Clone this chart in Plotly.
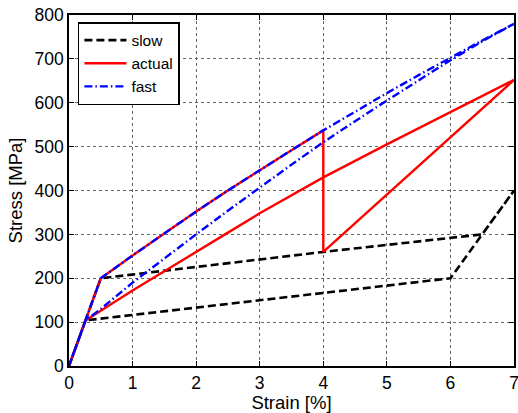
import plotly.graph_objects as go

# ---- data ----
slow_strain = [0, 0.5, 4, 6.5, 7, 6, 0.26, 0]
slow_stress = [0, 200, 260, 300, 400, 200, 104, 0]

actual_strain = [0, 0.5, 1, 1.5, 2, 2.5, 3, 3.5, 4, 4, 7,
                 6, 5, 4, 3, 2.5, 2, 1.5, 1, 0.5, 0.26, 0]
actual_stress = [0, 200, 252, 303, 352, 400, 447, 492, 537, 260, 652,
                 579, 505, 430, 348, 304, 260, 217, 172, 126, 104, 0]

fast_strain = [0, 0.5, 1, 1.5, 2, 2.5, 3, 3.5, 4, 4.5, 5, 5.5, 6, 6.5, 7,
               6.5, 6, 5.5, 5, 4.5, 4, 3.5, 3, 2.5, 2, 1.5, 1, 0.5, 0.26, 0]
fast_stress = [0, 200, 252, 303, 352, 400, 447, 492, 537, 580, 622, 663, 703, 742, 780,
               740, 697, 652, 605, 558, 510, 459, 407, 354, 300, 246, 190, 130, 104, 0]

x_ticks = [0, 1, 2, 3, 4, 5, 6, 7]
y_ticks = [0, 100, 200, 300, 400, 500, 600, 700, 800]

FONT = "Liberation Sans, Arial, Helvetica, sans-serif"

fig = go.Figure()
fig.add_trace(go.Scatter(x=slow_strain, y=slow_stress, mode="lines", name="slow",
                         line=dict(color="black", width=2.6, dash="8px,4px")))
fig.add_trace(go.Scatter(x=actual_strain, y=actual_stress, mode="lines", name="actual",
                         line=dict(color="#ff0000", width=2.4)))
fig.add_trace(go.Scatter(x=fast_strain, y=fast_stress, mode="lines", name="fast",
                         line=dict(color="#0000ff", width=2.4, dash="8px,3px,1.5px,3px")))

axis_common = dict(
    showline=True, linecolor="black", linewidth=1.5, mirror="ticks",
    ticks="inside", ticklen=5, tickcolor="black", tickwidth=1,
    showgrid=True, gridcolor="#666666", gridwidth=1, griddash="dot",
    zeroline=False, tickfont=dict(family=FONT, size=17.5, color="black"),
    ticklabeloverflow="allow",
)

fig.update_xaxes(range=[0, 7], tickvals=x_ticks,
                 title=dict(text="Strain [%]", font=dict(family=FONT, size=18.5, color="black"), standoff=1),
                 **axis_common)
fig.update_yaxes(range=[0, 800], tickvals=y_ticks,
                 title=dict(text="Stress [MPa]", font=dict(family=FONT, size=18.5, color="black"), standoff=7),
                 **axis_common)

fig.update_layout(
    width=518, height=413,
    margin=dict(l=69, r=4, t=15, b=47, autoexpand=False),
    paper_bgcolor="white", plot_bgcolor="white",
    font=dict(family=FONT, size=17, color="black"),
    legend=dict(x=0.02, y=0.98, xanchor="left", yanchor="top",
                bgcolor="white", bordercolor="black", borderwidth=1.5,
                font=dict(family=FONT, size=15.5, color="black"),
                tracegroupgap=0, itemwidth=42),
    showlegend=True,
)

fig.write_html("out.html", config={"displayModeBar": False},
               post_script="document.body.style.margin='0px';document.body.style.padding='0px';")
